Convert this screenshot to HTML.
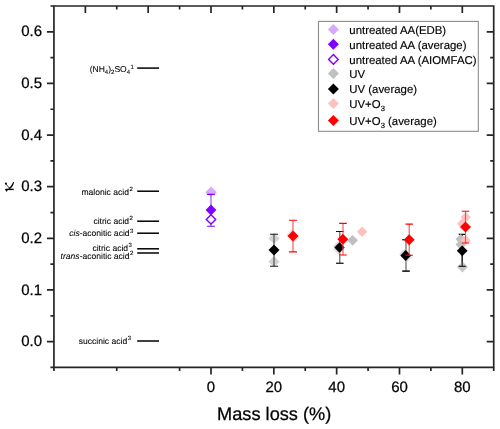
<!DOCTYPE html>
<html><head><meta charset="utf-8"><style>html,body{margin:0;padding:0;background:#fff;width:500px;height:429px;overflow:hidden}svg{display:block;will-change:transform}text{font-family:"Liberation Sans",sans-serif;text-rendering:geometricPrecision;stroke:#000;stroke-width:0.25px}.an{stroke-width:0.08px}.lg{stroke-width:0.15px}</style></head>
<body><svg width="500" height="429" viewBox="0 0 500 429">
<path d="M53.94,6.01H493.72M53.94,367.42H493.72M53.94,6.01V367.42M493.72,6.01V367.42" stroke="#262626" stroke-width="1.7" fill="none" stroke-linecap="square"/>
<path d="M50.44,367.42H53.94M46.94,341.60H53.94M486.72,341.60H493.72M50.44,315.79H53.94M490.22,315.79H493.72M46.94,289.97H53.94M486.72,289.97H493.72M50.44,264.16H53.94M490.22,264.16H493.72M46.94,238.34H53.94M486.72,238.34H493.72M50.44,212.53H53.94M490.22,212.53H493.72M46.94,186.71H53.94M486.72,186.71H493.72M50.44,160.90H53.94M490.22,160.90H493.72M46.94,135.08H53.94M486.72,135.08H493.72M50.44,109.27H53.94M490.22,109.27H493.72M46.94,83.45H53.94M486.72,83.45H493.72M50.44,57.64H53.94M490.22,57.64H493.72M46.94,31.82H53.94M486.72,31.82H493.72M50.44,6.01H53.94M85.35,6.01V13.01M116.76,6.01V9.51M148.17,6.01V13.01M179.59,6.01V9.51M211.00,6.01V13.01M242.41,6.01V9.51M273.83,6.01V13.01M305.24,6.01V9.51M336.65,6.01V13.01M368.06,6.01V9.51M399.48,6.01V13.01M430.89,6.01V9.51M462.30,6.01V13.01M53.94,367.42V370.92M116.76,367.42V370.92M179.59,367.42V370.92M211.00,367.42V374.42M242.41,367.42V370.92M273.83,367.42V374.42M305.24,367.42V370.92M336.65,367.42V374.42M368.06,367.42V370.92M399.48,367.42V374.42M430.89,367.42V370.92M462.30,367.42V374.42M493.72,367.42V370.92" stroke="#262626" stroke-width="1.7" fill="none"/>
<text x="42.0" y="346.20" font-size="15" text-anchor="end">0.0</text>
<text x="42.0" y="294.57" font-size="15" text-anchor="end">0.1</text>
<text x="42.0" y="242.94" font-size="15" text-anchor="end">0.2</text>
<text x="42.0" y="191.31" font-size="15" text-anchor="end">0.3</text>
<text x="42.0" y="139.68" font-size="15" text-anchor="end">0.4</text>
<text x="42.0" y="88.05" font-size="15" text-anchor="end">0.5</text>
<text x="42.0" y="36.42" font-size="15" text-anchor="end">0.6</text>
<text x="211.00" y="391.6" font-size="15" text-anchor="middle">0</text>
<text x="273.83" y="391.6" font-size="15" text-anchor="middle">20</text>
<text x="336.65" y="391.6" font-size="15" text-anchor="middle">40</text>
<text x="399.48" y="391.6" font-size="15" text-anchor="middle">60</text>
<text x="462.30" y="391.6" font-size="15" text-anchor="middle">80</text>
<text x="274.2" y="419.6" font-size="18.2" text-anchor="middle">Mass loss (%)</text>
<g fill="#000"><rect x="5.3" y="188.7" width="8.4" height="1.4"/><path d="M5.2,189.2L7.8,189.9L6.4,191.9Z"/><circle cx="5.9" cy="183.6" r="1.05"/><path d="M8.3,188.5Q11.6,186.0 13.2,182.1L14.0,182.3Q13.6,186.6 9.6,189.0Z"/></g><path d="M6.0,184.0L9.4,188.2" stroke="#000" stroke-width="0.8"/>
<path d="M137.2,68.10H159" stroke="#000" stroke-width="1.5"/>
<text class="an" x="89.67" y="71.90" font-size="8.55"><tspan y="71.90">(NH</tspan><tspan font-size="6.0" y="73.80">4</tspan><tspan y="71.90">)</tspan><tspan font-size="6.0" y="73.80">2</tspan><tspan y="71.90">SO</tspan><tspan font-size="6.0" y="73.80">4</tspan><tspan font-size="6.0" dx="0.5" y="68.60">1</tspan></text>
<path d="M137.2,191.20H159" stroke="#000" stroke-width="1.5"/>
<text class="an" x="81.43" y="194.70" font-size="8.55"><tspan y="194.70">malonic acid</tspan><tspan font-size="6.0" dx="0.5" y="191.40">2</tspan></text>
<path d="M137.2,221.20H159" stroke="#000" stroke-width="1.5"/>
<text class="an" x="93.44" y="223.70" font-size="8.55"><tspan y="223.70">citric acid</tspan><tspan font-size="6.0" dx="0.5" y="220.40">2</tspan></text>
<path d="M137.2,233.20H159" stroke="#000" stroke-width="1.5"/>
<text class="an" x="69.22" y="236.30" font-size="8.55"><tspan font-style="italic" y="236.30">cis</tspan><tspan y="236.30">-aconitic acid</tspan><tspan font-size="6.0" dx="0.5" y="233.00">3</tspan></text>
<path d="M137.2,248.80H159" stroke="#000" stroke-width="1.5"/>
<text class="an" x="92.44" y="250.70" font-size="8.55"><tspan y="250.70">citric acid</tspan><tspan font-size="6.0" dx="0.5" y="247.40">3</tspan></text>
<path d="M137.2,253.00H159" stroke="#000" stroke-width="1.5"/>
<text class="an" x="60.61" y="258.60" font-size="8.55"><tspan font-style="italic" y="258.60">trans</tspan><tspan y="258.60">-aconitic acid</tspan><tspan font-size="6.0" dx="0.5" y="255.30">2</tspan></text>
<path d="M137.2,341.00H159" stroke="#000" stroke-width="1.5"/>
<text class="an" x="78.76" y="343.70" font-size="8.55"><tspan y="343.70">succinic acid</tspan><tspan font-size="6.0" dx="0.5" y="340.40">3</tspan></text>
<path d="M211,186.6L216.8,192.3L214.7,194.4H207.1L205.4,192.3Z" fill="#d7a9ff"/>
<path d="M208.6,194.4H213.4L211,197.5Z" fill="#e6cfff"/>
<path d="M211,194.4V226.3" stroke="#9a50ff" stroke-width="1.2"/>
<path d="M207.1,194.4H214.9M207.1,226.3H214.9" stroke="#7f00ff" stroke-width="1.1"/>
<path d="M211.00,204.60L216.40,210.00L211.00,215.40L205.60,210.00Z" fill="#7f00ff"/>
<path d="M211.00,214.70L215.70,219.40L211.00,224.10L206.30,219.40Z" fill="#fff" stroke="#7f00ff" stroke-width="1.4"/>
<path d="M274.00,232.80L279.60,238.40L274.00,244.00L268.40,238.40Z" fill="#c0c0c0" fill-opacity="0.7"/>
<path d="M274.00,256.10L279.60,261.70L274.00,267.30L268.40,261.70Z" fill="#c0c0c0" fill-opacity="0.7"/>
<path d="M274,234.2V266.2" stroke="#444" stroke-width="1.1"/>
<path d="M270,234.2H278M270,266.2H278" stroke="#1a1a1a" stroke-width="1.1"/>
<path d="M274.00,244.50L279.50,250.00L274.00,255.50L268.50,250.00Z" fill="#000"/>
<path d="M291.70,229.60L297.10,235.00L291.70,240.40L286.30,235.00Z" fill="#ffc0c0" fill-opacity="0.6"/>
<path d="M294.30,231.60L299.70,237.00L294.30,242.40L288.90,237.00Z" fill="#ffc0c0" fill-opacity="0.6"/>
<path d="M293.00,220.20V251.90" stroke="#ff4a4a" stroke-width="1.1" fill="none"/><path d="M289.00,220.20H297.00M289.00,251.90H297.00" stroke="#ff0000" stroke-width="1.1" fill="none"/>
<path d="M293.00,230.50L298.50,236.00L293.00,241.50L287.50,236.00Z" fill="#ff0000"/>
<path d="M339.80,231.50V263.30" stroke="#555" stroke-width="1.1" fill="none"/><path d="M336.10,231.50H343.50M336.10,263.30H343.50" stroke="#555" stroke-width="1.1" fill="none"/>
<path d="M336.1,231.5H343.5M336.1,263.3H343.5" stroke="#111" stroke-width="1.1"/>
<path d="M338.30,240.90L343.70,246.30L338.30,251.70L332.90,246.30Z" fill="#c0c0c0" fill-opacity="0.6"/>
<path d="M338.80,243.90L344.20,249.30L338.80,254.70L333.40,249.30Z" fill="#c0c0c0" fill-opacity="0.6"/>
<path d="M339.50,242.30L344.70,247.50L339.50,252.70L334.30,247.50Z" fill="#000"/>
<path d="M352.60,234.90L358.00,240.30L352.60,245.70L347.20,240.30Z" fill="#c0c0c0"/>
<path d="M362.10,226.50L367.30,231.70L362.10,236.90L356.90,231.70Z" fill="#ffc0c0"/>
<path d="M343.00,223.40V255.00" stroke="#ff4a4a" stroke-width="1.1" fill="none"/><path d="M339.20,223.40H346.80M339.20,255.00H346.80" stroke="#ff0000" stroke-width="1.1" fill="none"/>
<path d="M342.80,233.70L348.30,239.20L342.80,244.70L337.30,239.20Z" fill="#ff0000"/>
<path d="M406.00,239.70V271.10" stroke="#555" stroke-width="1.1" fill="none"/><path d="M402.30,239.70H409.70M402.30,271.10H409.70" stroke="#555" stroke-width="1.1" fill="none"/>
<path d="M402.3,239.7H409.7M402.3,271.1H409.7" stroke="#111" stroke-width="1.1"/>
<path d="M404.50,248.80L409.90,254.20L404.50,259.60L399.10,254.20Z" fill="#c0c0c0" fill-opacity="0.6"/>
<path d="M406.50,251.60L411.90,257.00L406.50,262.40L401.10,257.00Z" fill="#c0c0c0" fill-opacity="0.6"/>
<path d="M405.70,250.10L411.10,255.50L405.70,260.90L400.30,255.50Z" fill="#000"/>
<path d="M409.20,224.10V255.30" stroke="#ff4a4a" stroke-width="1.1" fill="none"/><path d="M405.50,224.10H412.90M405.50,255.30H412.90" stroke="#ff0000" stroke-width="1.1" fill="none"/>
<path d="M409.20,234.20L414.70,239.70L409.20,245.20L403.70,239.70Z" fill="#ff0000"/>
<path d="M462.20,234.40V266.30" stroke="#111" stroke-width="1.1" fill="none"/><path d="M458.70,234.40H465.70M458.70,266.30H465.70" stroke="#111" stroke-width="1.1" fill="none"/>
<path d="M460.80,234.00L466.10,239.30L460.80,244.60L455.50,239.30Z" fill="#c0c0c0"/>
<path d="M460.80,239.30L466.10,244.60L460.80,249.90L455.50,244.60Z" fill="#c0c0c0"/>
<path d="M462.50,261.50L468.00,267.00L462.50,272.50L457.00,267.00Z" fill="#c0c0c0" fill-opacity="0.9"/>
<path d="M462.2,247V266.3" stroke="#222" stroke-width="1.1"/><path d="M458.7,266.3H465.7" stroke="#111" stroke-width="1.1"/>
<path d="M462.20,245.40L467.60,250.80L462.20,256.20L456.80,250.80Z" fill="#000"/>
<path d="M465.70,212.00L470.90,217.20L465.70,222.40L460.50,217.20Z" fill="#ffc0c0"/>
<path d="M462.20,218.60L467.40,223.80L462.20,229.00L457.00,223.80Z" fill="#ffc0c0"/>
<path d="M465.70,235.00L470.90,240.20L465.70,245.40L460.50,240.20Z" fill="#ffc0c0"/>
<path d="M465.50,211.20V243.00" stroke="#ff4a4a" stroke-width="1.1" fill="none"/><path d="M461.80,211.20H469.20M461.80,243.00H469.20" stroke="#ff0000" stroke-width="1.1" fill="none"/>
<path d="M465.50,221.50L471.00,227.00L465.50,232.50L460.00,227.00Z" fill="#ff0000"/>
<rect x="318.5" y="21.4" width="159.8" height="109.9" fill="#fff" stroke="#8c8c8c" stroke-width="1.1"/>
<path d="M333.40,24.10L338.90,29.60L333.40,35.10L327.90,29.60Z" fill="#d7a9ff"/>
<text class="lg" x="349.3" y="34.00" font-size="11.4">untreated AA(EDB)</text>
<path d="M333.40,38.80L338.90,44.30L333.40,49.80L327.90,44.30Z" fill="#7f00ff"/>
<text class="lg" x="349.3" y="48.70" font-size="11.4">untreated AA (average)</text>
<path d="M333.40,54.60L338.20,59.40L333.40,64.20L328.60,59.40Z" fill="#fff" stroke="#7f00ff" stroke-width="1.4"/>
<text class="lg" x="349.3" y="63.50" font-size="11.4">untreated AA (AIOMFAC)</text>
<path d="M333.40,68.10L338.90,73.60L333.40,79.10L327.90,73.60Z" fill="#c0c0c0"/>
<text class="lg" x="349.3" y="78.00" font-size="11.4">UV</text>
<path d="M333.40,83.50L338.90,89.00L333.40,94.50L327.90,89.00Z" fill="#000"/>
<text class="lg" x="349.3" y="93.40" font-size="11.4">UV (average)</text>
<path d="M333.40,97.90L338.90,103.40L333.40,108.90L327.90,103.40Z" fill="#ffc0c0"/>
<text class="lg" x="349.3" y="107.80" font-size="11.4">UV+O<tspan font-size="7.6" dy="2.7">3</tspan></text>
<path d="M333.40,115.10L338.90,120.60L333.40,126.10L327.90,120.60Z" fill="#ff0000"/>
<text class="lg" x="349.3" y="125.00" font-size="11.4">UV+O<tspan font-size="7.6" dy="2.7">3</tspan><tspan dy="-2.7"> (average)</tspan></text>
</svg></body></html>
